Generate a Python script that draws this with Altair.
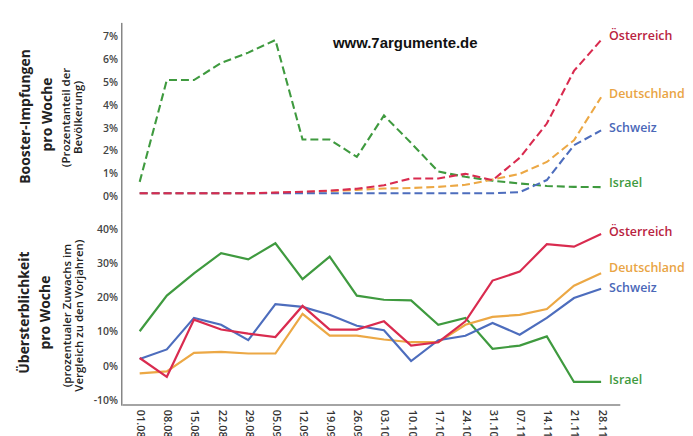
import altair as alt
import pandas as pd

# ---------------- data ----------------
dates = ["01.08", "08.08", "15.08", "22.08", "29.08", "05.09", "12.09", "19.09",
         "26.09", "03.10", "10.10", "17.10", "24.10", "31.10", "07.11", "14.11",
         "21.11", "28.11"]
countries = ["Israel", "Deutschland", "Schweiz", "Österreich"]
line_colors = ["#3f9a3f", "#eca845", "#4d6dbd", "#d92b4f"]
label_colors = ["#3f9a3f", "#e9a444", "#4a67b8", "#b9233f"]

# Booster-Impfungen pro Woche (% der Bevölkerung)
booster_israel = [0.65, 5.1, 5.1, 5.85, 6.3, 6.85, 2.5, 2.5, 1.74, 3.55, 2.35, 1.1,
                  0.87, 0.7, 0.58, 0.47, 0.43, 0.42]
booster_deutschland = [0.15, 0.15, 0.15, 0.15, 0.15, 0.17, 0.2, 0.25, 0.3, 0.36, 0.38,
                       0.43, 0.52, 0.75, 1.0, 1.52, 2.47, 4.35]
booster_schweiz = [0.15, 0.15, 0.15, 0.15, 0.15, 0.15, 0.15, 0.15, 0.15, 0.15, 0.15,
                   0.15, 0.15, 0.15, 0.2, 0.73, 2.25, 2.9]
booster_oesterreich = [0.15, 0.15, 0.15, 0.15, 0.15, 0.18, 0.22, 0.27, 0.35, 0.5, 0.8,
                       0.8, 1.0, 0.72, 1.7, 3.2, 5.5, 6.85]

# Übersterblichkeit pro Woche (% Zuwachs ggü. Vorjahren)
excess_israel = [10.2, 20.6, 27.1, 33.0, 31.2, 35.9, 25.4, 32.0, 20.6, 19.4, 19.2, 12.1,
                 14.1, 5.1, 6.0, 8.7, -4.6, -4.6]
excess_deutschland = [-2.1, -1.5, 3.9, 4.2, 3.7, 3.7, 15.3, 8.9, 8.9, 7.8, 7.0, 7.0,
                      12.1, 14.4, 15.0, 16.7, 23.5, 27.1]
excess_schweiz = [2.1, 4.9, 14.1, 12.1, 7.6, 18.1, 17.3, 15.0, 11.8, 10.5, 1.5, 7.6,
                  8.9, 12.6, 9.2, 14.1, 19.9, 22.6]
excess_oesterreich = [2.4, -3.1, 13.6, 10.7, 9.5, 8.5, 17.6, 10.7, 10.7, 13.1, 6.0, 7.0,
                      13.1, 25.0, 27.6, 35.6, 34.9, 38.6]

top_ticks = [0, 1, 2, 3, 4, 5, 6, 7]
bottom_ticks = [-10, 0, 10, 20, 30, 40]


def to_long(series):
    rows = []
    for c, vals in zip(countries, series):
        for d, v in zip(dates, vals):
            rows.append({"date": d, "country": c, "value": v})
    return pd.DataFrame(rows)


df_top = to_long([booster_israel, booster_deutschland, booster_schweiz, booster_oesterreich])
df_bot = to_long([excess_israel, excess_deutschland, excess_schweiz, excess_oesterreich])

AXIS_GREY = "#868686"
W = 518          # plot width (axis line sits 10px inside the left edge)
AX = 10          # x position of the drawn y-axis line
FONT = "Open Sans"


def note(text, x, y, size, weight, angle=270, color="#222222", font=FONT,
         align="center", baseline="alphabetic"):
    return alt.Chart(alt.Data(values=[{"t": text}])).mark_text(
        angle=angle, fontSize=size, fontWeight=weight, font=font, color=color,
        align=align, baseline=baseline
    ).encode(x=alt.value(x), y=alt.value(y), text="t:N")


def box(x, x2, y, y2, color):
    return alt.Chart(alt.Data(values=[{"a": 1}])).mark_rect(color=color).encode(
        x=alt.value(x), x2=alt.value(x2), y=alt.value(y), y2=alt.value(y2))


def panel(df, domain, ticks, dashed, show_x, dys):
    if show_x:
        xaxis = alt.Axis(title=None, labelAngle=90, ticks=False, labelPadding=5,
                         domain=False, offset=-10, labelFontSize=11, labelFont=FONT,
                         labelFontWeight=600, labelColor="#333333", labelOverlap=False)
    else:
        xaxis = None
    x = alt.X("date:O", sort=dates, scale=alt.Scale(type="point", padding=1.03), axis=xaxis)
    yaxis = alt.Axis(title=None, values=ticks, labelExpr="datum.value + '%'",
                     ticks=False, grid=False, domain=False, offset=-AX, labelPadding=5,
                     labelFontSize=10.5, labelFont=FONT, labelFontWeight=600,
                     labelColor="#444444", labelOverlap=False)
    y = alt.Y("value:Q", scale=alt.Scale(domain=domain, nice=False, zero=False), axis=yaxis)
    mark_kw = dict(strokeWidth=2.1, strokeDash=[8, 4]) if dashed else dict(strokeWidth=2.2)
    base = alt.Chart(df)
    lines = base.mark_line(**mark_kw).encode(
        x=x, y=y,
        color=alt.Color("country:N", scale=alt.Scale(domain=countries, range=line_colors),
                        legend=None),
    )
    label_layers = []
    for c, col, dy in zip(countries, label_colors, dys):
        label_layers.append(
            base.transform_filter(
                (alt.datum.date == dates[-1]) & (alt.datum.country == c)
            ).mark_text(
                align="left", baseline="middle", dx=8, dy=dy, font=FONT, fontSize=12.5,
                fontWeight=600, color=col
            ).encode(x=x, y=y, text="country:N")
        )
    return [lines] + label_layers


top_layers = panel(df_top, [-0.67, 7.6], top_ticks, True, False, [-4, -3, -2, -4])
bot_layers = panel(df_bot, [-14.0, 45], bottom_ticks, False, True, [-2, -5, -1, -2])

top = alt.layer(
    box(-105, -104, -14, -13, "white"),
    box(AX - 1.5, AX, 0, 190, AXIS_GREY),
    *top_layers,
    note("www.7argumente.de", 294, 20, 15, "bold", angle=0, color="#111111",
         font="Liberation Sans", baseline="middle"),
    note("Booster-Impfungen", -83, 94, 14, "bold"),
    note("pro Woche", -61, 92, 14, "bold"),
    note("(Prozentanteil der", -43, 95, 11.5, 600),
    note("Bevölkerung)", -31, 95, 11.5, 600),
).properties(width=W, height=190)

bottom = alt.layer(
    box(AX - 1.5, AX, 0, 194.5, AXIS_GREY),
    box(AX, AX + 500, 193, 194.5, AXIS_GREY),
    *bot_layers,
    note("Übersterblichkeit", -84, 101, 14, "bold"),
    note("pro Woche", -63, 101, 14, "bold"),
    note("(prozentualer Zuwachs im", -42, 104, 11.5, 600),
    note("Vergleich zu den Vorjahren)", -30, 104, 11.5, 600),
).properties(width=W, height=203)

chart = alt.vconcat(top, bottom, spacing=0, bounds="flush").properties(
    background="white", padding=0
).configure_view(stroke="transparent", strokeWidth=0)

chart.save("out.html", embed_options={"renderer": "svg", "actions": False})
